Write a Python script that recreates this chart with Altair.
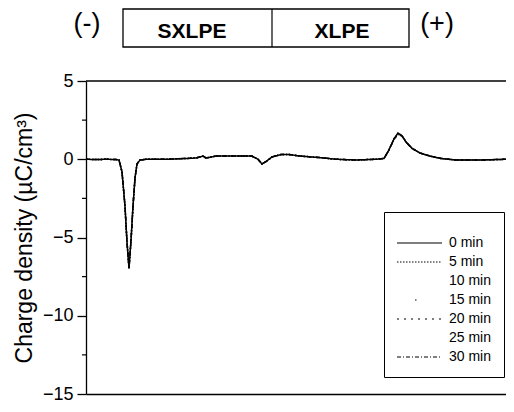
import altair as alt
import pandas as pd

# ---- data ----
position = [0, 10, 20, 30, 33, 36, 39, 41, 43, 45, 47, 49, 51, 54, 60, 80, 100, 110,
            117, 120, 130, 150, 166, 172, 176, 180, 186, 195, 203, 215, 235, 250, 270,
            290, 298, 303, 308, 312, 316, 320, 326, 334, 344, 355, 370, 395, 420]

q_0min = [0.0, -0.02, 0.0, -0.02, -0.05, -0.8, -3.0, -5.3, -6.95, -5.2, -3.0, -1.2, -0.3, -0.05,
          0.0, 0.0, 0.05, 0.08, 0.2, 0.08, 0.2, 0.2, 0.2, 0.0, -0.3, -0.15, 0.15, 0.3, 0.3, 0.2,
          0.1, 0.0, -0.05, 0.0, 0.05, 0.6, 1.3, 1.68, 1.5, 1.1, 0.7, 0.4, 0.2, 0.05, -0.05, -0.05, 0.0]
q_5min = [0.0, -0.02, 0.0, -0.02, -0.05, -0.8, -3.0, -5.3, -7.0, -5.2, -3.0, -1.2, -0.3, -0.05,
          0.0, 0.0, 0.05, 0.08, 0.2, 0.08, 0.2, 0.2, 0.2, 0.0, -0.3, -0.15, 0.15, 0.3, 0.3, 0.2,
          0.1, 0.0, -0.05, 0.0, 0.05, 0.6, 1.3, 1.65, 1.5, 1.1, 0.7, 0.4, 0.2, 0.05, -0.05, -0.05, 0.0]
q_10min = [0.0, -0.02, 0.0, -0.02, -0.05, -0.8, -3.0, -5.3, -6.9, -5.2, -3.0, -1.2, -0.3, -0.05,
           0.0, 0.0, 0.05, 0.08, 0.2, 0.08, 0.2, 0.2, 0.2, 0.0, -0.3, -0.15, 0.15, 0.3, 0.3, 0.2,
           0.1, 0.0, -0.05, 0.0, 0.05, 0.6, 1.3, 1.62, 1.5, 1.1, 0.7, 0.4, 0.2, 0.05, -0.05, -0.05, 0.0]
q_15min = [0.0, -0.02, 0.0, -0.02, -0.05, -0.8, -3.0, -5.3, -6.95, -5.2, -3.0, -1.2, -0.3, -0.05,
           0.0, 0.0, 0.05, 0.08, 0.2, 0.08, 0.2, 0.2, 0.2, 0.0, -0.3, -0.15, 0.15, 0.3, 0.3, 0.2,
           0.1, 0.0, -0.05, 0.0, 0.05, 0.6, 1.3, 1.6, 1.5, 1.1, 0.7, 0.4, 0.2, 0.05, -0.05, -0.05, 0.0]
q_20min = [0.0, -0.02, 0.0, -0.02, -0.05, -0.8, -3.0, -5.3, -6.95, -5.2, -3.0, -1.2, -0.3, -0.05,
           0.0, 0.0, 0.05, 0.08, 0.2, 0.08, 0.2, 0.2, 0.2, 0.0, -0.3, -0.15, 0.15, 0.3, 0.3, 0.2,
           0.1, 0.0, -0.05, 0.0, 0.05, 0.6, 1.3, 1.62, 1.52, 1.1, 0.7, 0.4, 0.2, 0.05, -0.05, -0.05, 0.0]
q_25min = [0.0, -0.02, 0.0, -0.02, -0.05, -0.8, -3.0, -5.3, -6.9, -5.2, -3.0, -1.2, -0.3, -0.05,
           0.0, 0.0, 0.05, 0.08, 0.2, 0.08, 0.2, 0.2, 0.2, 0.0, -0.3, -0.15, 0.15, 0.3, 0.3, 0.2,
           0.1, 0.0, -0.05, 0.0, 0.05, 0.6, 1.3, 1.6, 1.5, 1.1, 0.7, 0.4, 0.2, 0.05, -0.05, -0.05, 0.0]
q_30min = [0.0, -0.02, 0.0, -0.02, -0.05, -0.8, -3.0, -5.3, -6.9, -5.2, -3.0, -1.2, -0.3, -0.05,
           0.0, 0.0, 0.05, 0.08, 0.2, 0.08, 0.2, 0.2, 0.2, 0.0, -0.3, -0.15, 0.15, 0.3, 0.3, 0.2,
           0.1, 0.0, -0.05, 0.0, 0.05, 0.6, 1.3, 1.58, 1.48, 1.1, 0.7, 0.4, 0.2, 0.05, -0.05, -0.05, 0.0]

times = ["0 min", "5 min", "10 min", "15 min", "20 min", "25 min", "30 min"]
series = [q_0min, q_5min, q_10min, q_15min, q_20min, q_25min, q_30min]

y_ticks = [5, 0, -5, -10, -15]
minor_ticks = [2.5, -2.5, -7.5, -12.5]

rows = []
for t, vals in zip(times, series):
    for p, v in zip(position, vals):
        rows.append({"position": p, "charge": v, "time": t})
df = pd.DataFrame(rows)

# ---- styling ----
W, H = 420, 313
FONT = "Liberation Sans"
dash_range = [[1, 0], [1.5, 1.5], [0.01, 1000], [0.01, 18, 1.5, 1000],
              [2, 5], [0.01, 1000], [4, 2, 1, 2]]
YTITLE = "Charge density (µC/cm³)"

yscale = alt.Scale(domain=[-15, 5], nice=False, zero=False)

lines = alt.Chart(df).mark_line(clip=True, color="black", strokeWidth=1.5).encode(
    x=alt.X("position:Q",
            scale=alt.Scale(domain=[0, 420], nice=False, zero=False),
            axis=alt.Axis(labels=False, ticks=False, title=None, grid=False,
                          domainColor="black", domainWidth=1.3)),
    y=alt.Y("charge:Q", scale=yscale,
            axis=alt.Axis(values=y_ticks, tickSize=9, tickWidth=1.3, tickColor="black",
                          domainColor="black", domainWidth=1.3, grid=False,
                          labelFont=FONT, labelFontSize=18, labelColor="black", labelPadding=4,
                          title=YTITLE, titleFont=FONT, titleFontSize=23,
                          titleFontWeight="normal", titleColor="black", titlePadding=6)),
    strokeDash=alt.StrokeDash(
        "time:N", sort=times,
        scale=alt.Scale(domain=times, range=dash_range),
        legend=alt.Legend(title=" ", orient="none", legendX=298, legendY=131,
                          strokeColor="black", fillColor="white", padding=12,
                          symbolType="stroke", symbolSize=2025, symbolStrokeWidth=1.2,
                          symbolStrokeColor="black", labelFont=FONT, labelFontSize=14,
                          labelColor="black", labelOffset=6, rowPadding=3, clipHeight=16,
                          titleFontSize=8, titlePadding=3)),
)

minor = alt.Chart(pd.DataFrame({"charge": minor_ticks})).mark_rule(
    color="black", strokeWidth=1.2).encode(
    y=alt.Y("charge:Q", scale=yscale, title=YTITLE),
    x=alt.value(-4), x2=alt.value(0))

one = alt.Data(values=[{"a": 1}])
top_border = alt.Chart(one).mark_rule(color="black", strokeWidth=1.3).encode(
    x=alt.value(0), x2=alt.value(W), y=alt.value(0))

box = alt.Chart(one).mark_rect(fillOpacity=0, stroke="black", strokeWidth=1.3).encode(
    x=alt.value(37), x2=alt.value(323), y=alt.value(-72), y2=alt.value(-34))
divider = alt.Chart(one).mark_rule(color="black", strokeWidth=1.2).encode(
    x=alt.value(186), y=alt.value(-72), y2=alt.value(-34))
t_sx = alt.Chart(one).mark_text(text="SXLPE", font=FONT, fontSize=21, fontWeight="bold",
                                color="black", baseline="alphabetic").encode(
    x=alt.value(106), y=alt.value(-43))
t_x = alt.Chart(one).mark_text(text="XLPE", font=FONT, fontSize=21, fontWeight="bold",
                               color="black", baseline="alphabetic").encode(
    x=alt.value(256), y=alt.value(-43))
t_neg = alt.Chart(one).mark_text(text="(-)", font=FONT, fontSize=27,
                                 color="black", baseline="middle").encode(
    x=alt.value(1), y=alt.value(-57))
t_pos = alt.Chart(one).mark_text(text="(+)", font=FONT, fontSize=27,
                                 color="black", baseline="middle").encode(
    x=alt.value(351), y=alt.value(-57))

chart = alt.layer(lines, minor, top_border, box, divider, t_sx, t_x, t_neg, t_pos).properties(
    width=W, height=H,
    autosize=alt.AutoSizeParams(type="none"),
    padding={"left": 78, "top": 73, "right": 0, "bottom": 10},
).configure_view(stroke=None)

chart.save("out.html", embed_options={"renderer": "svg", "actions": False})
